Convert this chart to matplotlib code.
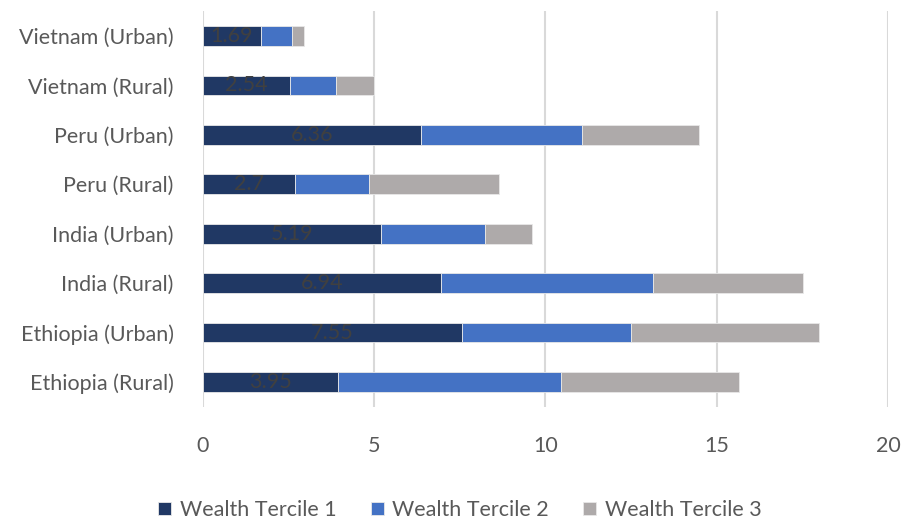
import matplotlib
matplotlib.use('Agg')
import matplotlib.pyplot as plt

# data (top row first, as in the picture)
groups = ['Vietnam (Urban)', 'Vietnam (Rural)', 'Peru (Urban)', 'Peru (Rural)',
          'India (Urban)', 'India (Rural)', 'Ethiopia (Urban)', 'Ethiopia (Rural)']
tercile1 = [1.69, 2.54, 6.36, 2.7, 5.19, 6.94, 7.55, 3.95]
tercile2 = [0.92, 1.33, 4.72, 2.16, 3.03, 6.19, 4.94, 6.51]
tercile3 = [0.34, 1.11, 3.39, 3.78, 1.40, 4.39, 5.49, 5.19]
series_names = ['Wealth Tercile 1', 'Wealth Tercile 2', 'Wealth Tercile 3']
colors = ['#203864', '#4472C4', '#AEAAAA']
xticks = [0, 5, 10, 15, 20]

plt.rcParams['font.family'] = ['Lato', 'DejaVu Sans']
text_col = '#595959'
fs = 15.5

fig = plt.figure(figsize=(9.03, 5.23), dpi=100)
ax = fig.add_axes([203 / 903, 1 - 406.7 / 523, 685 / 903, 395.4 / 523])

# bottom category at y=0.5
ypos = [len(groups) - 0.5 - i for i in range(len(groups))]
left = [0] * len(groups)
bars = []
for vals, name, c in zip([tercile1, tercile2, tercile3], series_names, colors):
    b = ax.barh(ypos, vals, left=left, height=0.4, color=c, label=name,
                edgecolor='#e8e8e8', linewidth=0.6, zorder=3)
    bars.append(b)
    left = [l + v for l, v in zip(left, vals)]

ax.bar_label(bars[0], labels=[str(v) for v in tercile1], label_type='center',
             color='#404040', fontsize=fs)

ax.set_xlim(0, 20)
ax.set_ylim(0, len(groups))
ax.set_xticks(xticks)
ax.set_xticklabels([str(t) for t in xticks])
ax.set_yticks(ypos)
ax.set_yticklabels(groups)
ax.tick_params(axis='both', length=0, labelsize=fs, colors=text_col)
ax.tick_params(axis='x', pad=21)
ax.tick_params(axis='y', pad=21)
ax.grid(axis='x', color='#d9d9d9', linewidth=1.5, zorder=0)
for s in ax.spines.values():
    s.set_visible(False)

fig.legend(handles=bars, labels=series_names, loc='center', bbox_to_anchor=(460 / 903, 1 - 510 / 523),
           ncol=3, frameon=False, fontsize=fs, handlelength=0.6, handleheight=0.6,
           handletextpad=0.4, columnspacing=1.6, labelcolor=text_col)

fig.savefig('out.png', dpi=100)
